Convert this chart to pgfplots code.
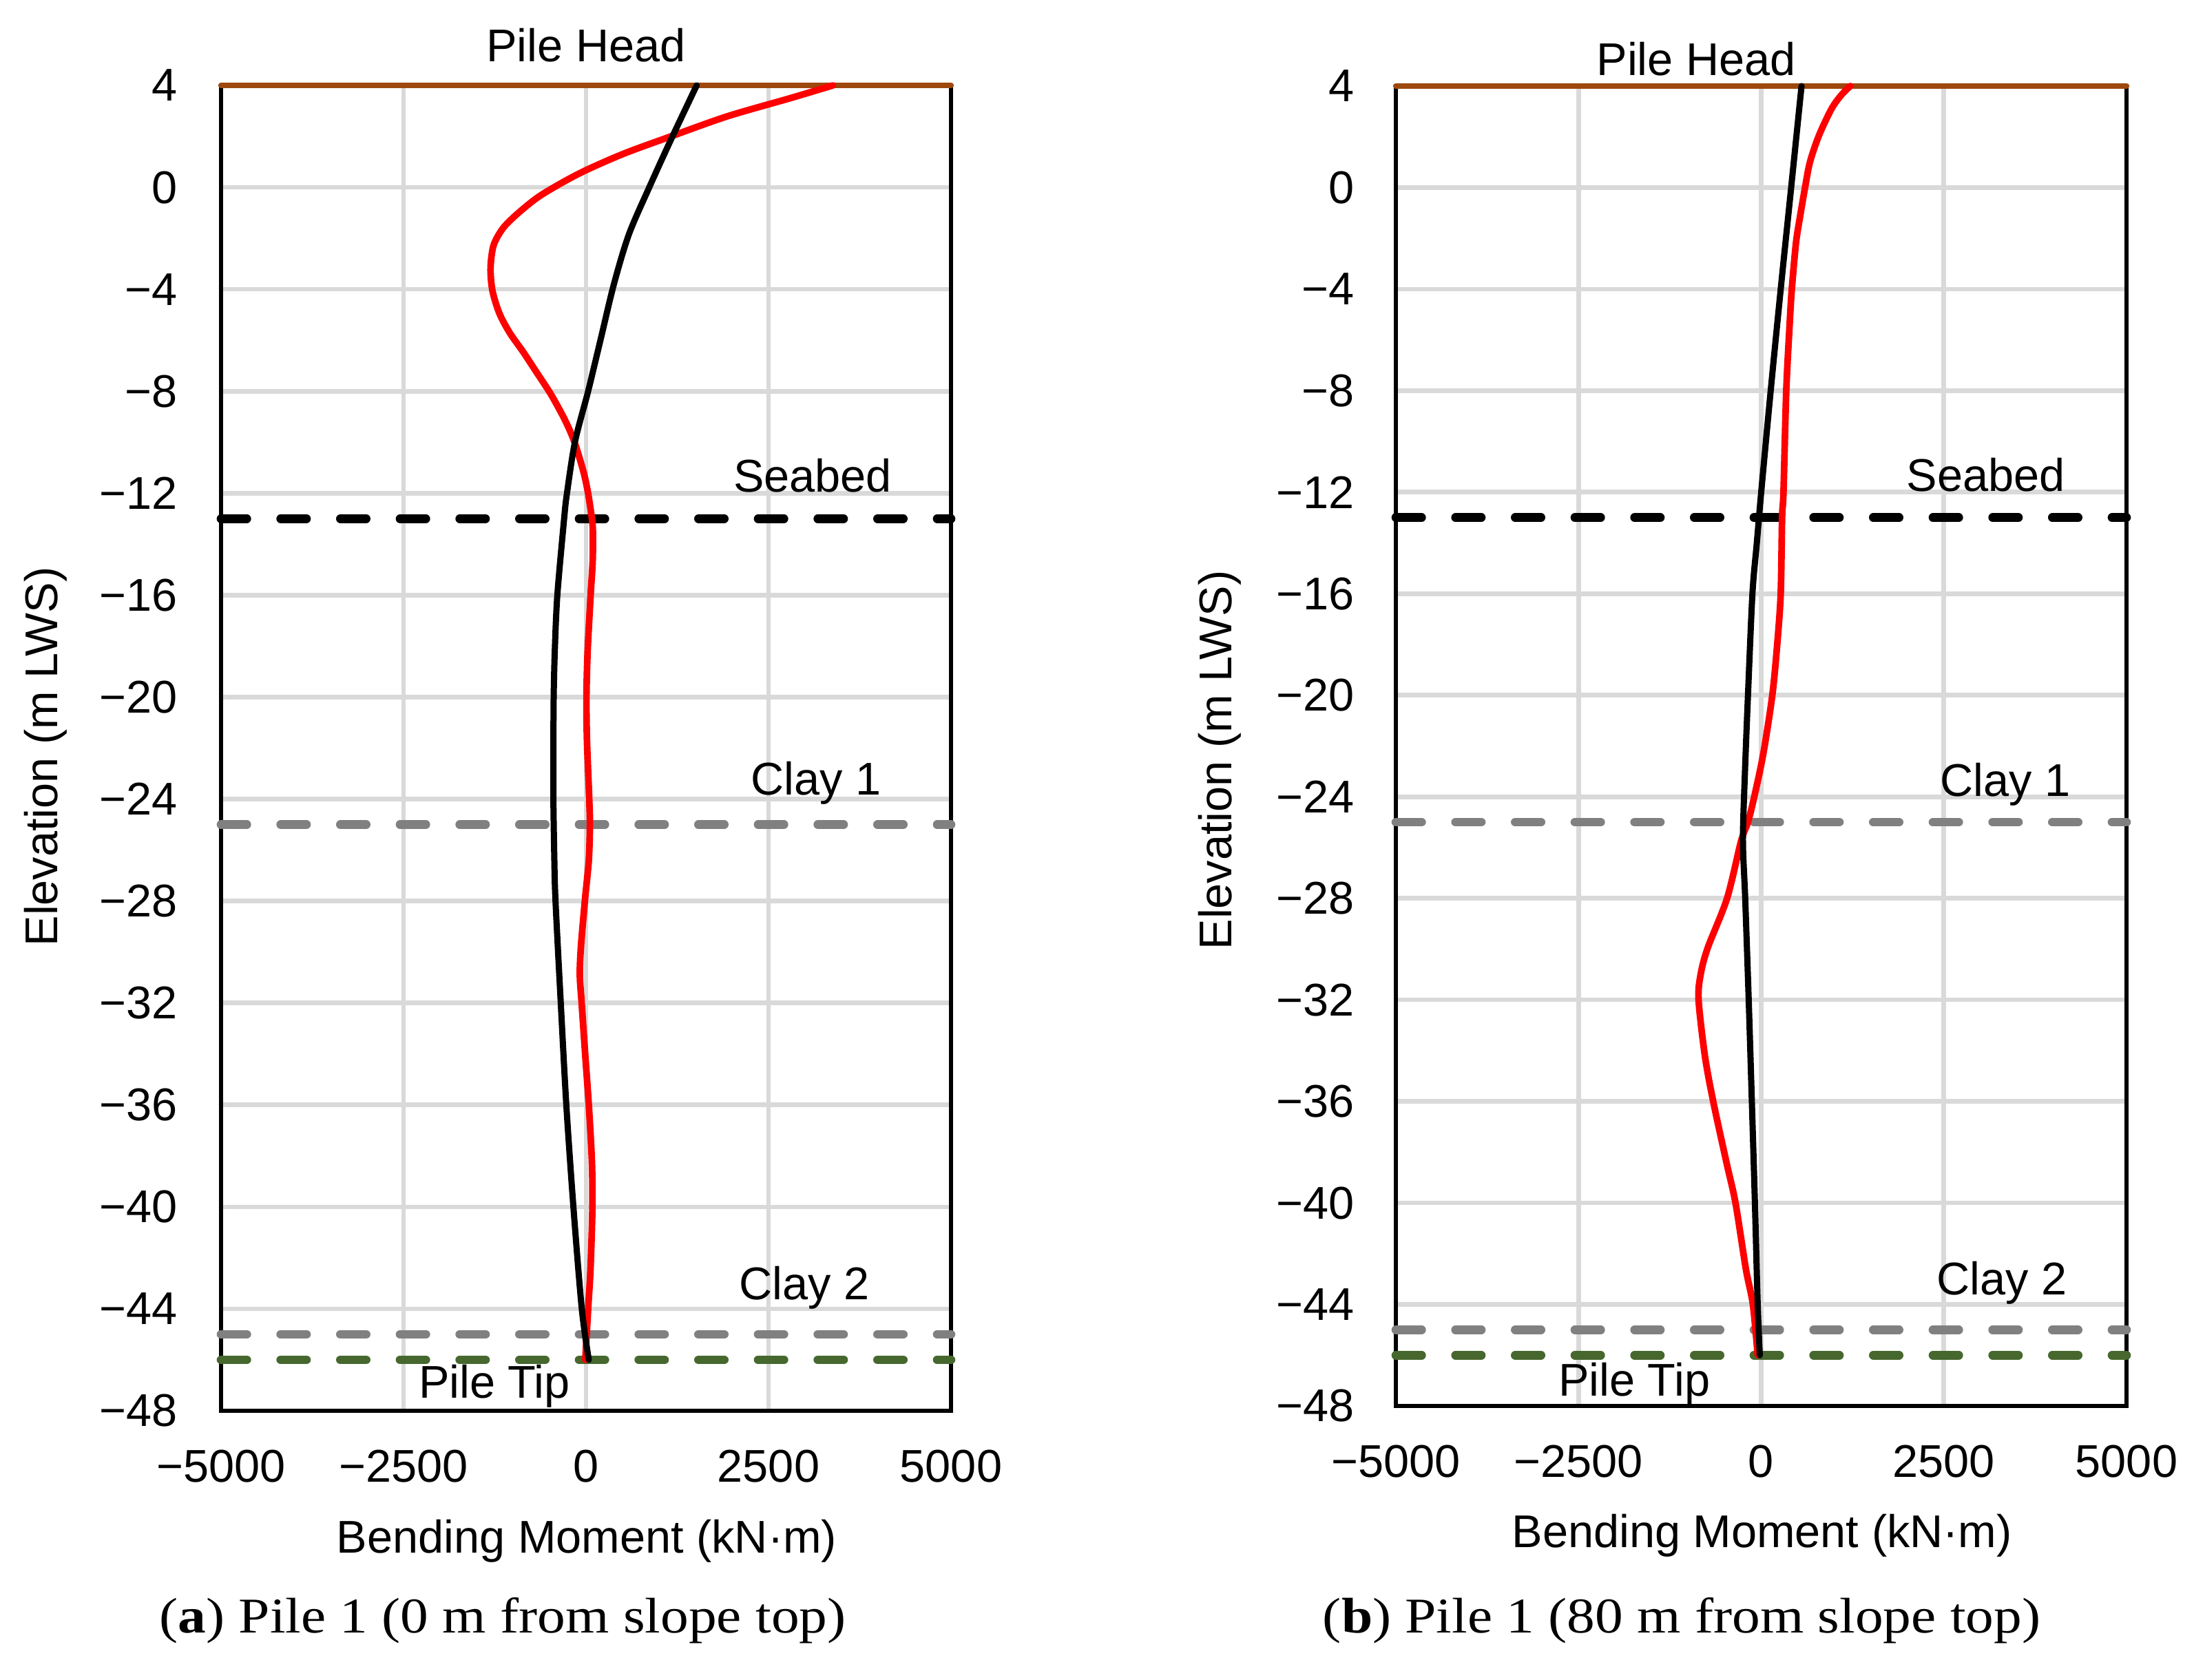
\documentclass[border=0pt]{standalone}
\usepackage{fontspec}
\setmainfont{Liberation Sans}
\newfontfamily\capfont[FakeStretch=1.12]{Liberation Serif}
\usepackage{pgfplots}
\usepackage{pgfplotstable}
\pgfplotsset{compat=1.18}
\definecolor{pilebrown}{RGB}{158,72,14}
\definecolor{tipgreen}{RGB}{70,104,46}
\definecolor{claygray}{RGB}{128,128,128}
\definecolor{gridgray}{RGB}{217,217,217}
\definecolor{curvered}{RGB}{255,0,0}

\pgfplotstableread{
x y
3383 4
2800 3.5
1940 2.79
1154 1.99
525 1.33
-3 0.67
-355 0.14
-670 -0.41
-953 -1.07
-1142 -1.62
-1267 -2.28
-1308 -3.16
-1283 -4.04
-1189 -4.93
-1047 -5.70
-858 -6.47
-670 -7.29
-481 -8.12
-292 -9.11
-160 -9.98
-35 -11.16
28 -12
79 -12.97
94 -13.5
91 -14.67
63 -16
22 -18.2
6 -20
13 -21.7
44 -24
53 -25
38 -26.4
-16 -28
-70 -29.8
-85 -30.9
-60 -32
-12 -34
38 -36
80 -38.2
87 -40
62 -42.4
29 -44
-10 -46
}\redA

\pgfplotstableread{
x y
1516 4
1170 1.91
871 0.03
588 -1.84
380 -3.82
204 -5.92
28 -8.01
-151 -9.98
-261 -12
-299 -12.97
-393 -16
-428 -18.2
-443 -20
-447 -22
-447 -24
-434 -26.4
-418 -28
-346 -32
-270 -36
-173 -40
-58 -44
38 -46
}\blackA

\pgfplotstableread{
x y
1219 4
1095 3.64
962 3.1
790 2.05
667 1.0
600 0
533 -1.12
476 -2.18
419 -4
390 -5.35
343 -8
305 -12
286 -13
267 -16
219 -18
152 -20
29 -22.3
-95 -24
-181 -25
-276 -25.75
-467 -28
-733 -29.96
-829 -31
-857 -32
-771 -34.2
-657 -36
-476 -38.4
-352 -40
-210 -42.6
-114 -44
-48 -46
}\redB

\pgfplotstableread{
x y
552 4
410 0
267 -4
130 -8
0 -12
-60 -14
-120 -16
-181 -20
-222 -23
-250 -25.7
-219 -28
-171 -32
-128 -36
-86 -40
-48 -44
-19 -46
}\blackB

\tikzset{
 dashref/.style={line width=1.9bp, line cap=round, dash pattern=on 5.6bp off 7.4bp},
 lbl/.style={anchor=base, inner sep=0pt, font=\fontsize{10bp}{12bp}\selectfont},
}

\pgfplotsset{
 pileaxis/.style={
  scale only axis, anchor=south west,
  xmin=-5000, xmax=5000, ymin=-48, ymax=4,
  xtick={-5000,-2500,0,2500,5000},
  xticklabels={−5000,−2500,0,2500,5000},
  ytick={-48,-44,...,4},
  yticklabels={−48,−44,−40,−36,−32,−28,−24,−20,−16,−12,−8,−4,0,4},
  major tick length=0pt,
  xmajorgrids, ymajorgrids,
  major grid style={draw=gridgray, line width=1bp},
  axis line style={line width=1bp, black},
  tick label style={font=\fontsize{10bp}{12bp}\selectfont, inner sep=0pt},
  xticklabel style={anchor=base, yshift=-15.6bp},
  clip=false,
 },
}

\begin{document}
\begin{tikzpicture}
\path[use as bounding box] (0,0) rectangle (477.9bp,366bp);

% ---------- (a) ----------
\begin{axis}[pileaxis, at={(48.15bp,58.65bp)}, width=159bp, height=288.75bp,
  yticklabel style={anchor=east, xshift=-9.25bp}]
\addplot[pilebrown, line width=1.25bp, line cap=round] coordinates {(-5000,4) (5000,4)};
\addplot[black, dashref] coordinates {(-5000,-13) (5000,-13)};
\addplot[claygray, dashref] coordinates {(-5000,-25) (5000,-25)};
\addplot[claygray, dashref] coordinates {(-5000,-45) (5000,-45)};
\addplot[tipgreen, dashref] coordinates {(-5000,-46) (5000,-46)};
\addplot[curvered, line width=1.45bp, smooth, tension=0.5, line join=round, line cap=round] table {\redA};
\addplot[black, line width=1.35bp, smooth, tension=0.5, line join=round, line cap=round] table {\blackA};
\node[lbl] at (axis cs:0,4.92) {Pile Head};
\node[lbl] at (axis cs:3104,-11.96) {Seabed};
\node[lbl] at (axis cs:3151,-23.84) {Clay 1};
\node[lbl] at (axis cs:2991,-43.65) {Clay 2};
\node[lbl] at (axis cs:-1255,-47.49) {Pile Tip};
\end{axis}

% ---------- (b) ----------
\begin{axis}[pileaxis, at={(304.05bp,59.7bp)}, width=159.15bp, height=287.55bp,
  yticklabel style={anchor=east, xshift=-8.9bp}]
\addplot[pilebrown, line width=1.25bp, line cap=round] coordinates {(-5000,4) (5000,4)};
\addplot[black, dashref] coordinates {(-5000,-13) (5000,-13)};
\addplot[claygray, dashref] coordinates {(-5000,-25) (5000,-25)};
\addplot[claygray, dashref] coordinates {(-5000,-45) (5000,-45)};
\addplot[tipgreen, dashref] coordinates {(-5000,-46) (5000,-46)};
\addplot[curvered, line width=1.45bp, smooth, tension=0.5, line join=round, line cap=round] table {\redB};
\addplot[black, line width=1.35bp, smooth, tension=0.5, line join=round, line cap=round] table {\blackB};
\node[lbl] at (axis cs:-890,4.41) {Pile Head};
\node[lbl] at (axis cs:3073,-11.97) {Seabed};
\node[lbl] at (axis cs:3341,-23.99) {Clay 1};
\node[lbl] at (axis cs:3294,-43.63) {Clay 2};
\node[lbl] at (axis cs:-1737,-47.61) {Pile Tip};
\end{axis}

% axis titles and captions
\node[lbl, rotate=90] at (12.45bp,201.15bp) {Elevation (m LWS)};
\node[lbl, rotate=90] at (268.2bp,200.4bp) {Elevation (m LWS)};
\node[lbl] at (127.8bp,27.75bp) {Bending Moment (kN·m)};
\node[lbl] at (383.8bp,28.95bp) {Bending Moment (kN·m)};
\node[anchor=base, inner sep=0pt, font=\capfont\fontsize{10.9bp}{13bp}\selectfont] at (109.5bp,10.3bp) {(\textbf{a}) Pile 1 (0 m from slope top)};
\node[anchor=base, inner sep=0pt, font=\capfont\fontsize{10.9bp}{13bp}\selectfont] at (366.3bp,10.3bp) {(\textbf{b}) Pile 1 (80 m from slope top)};
\end{tikzpicture}
\end{document}
